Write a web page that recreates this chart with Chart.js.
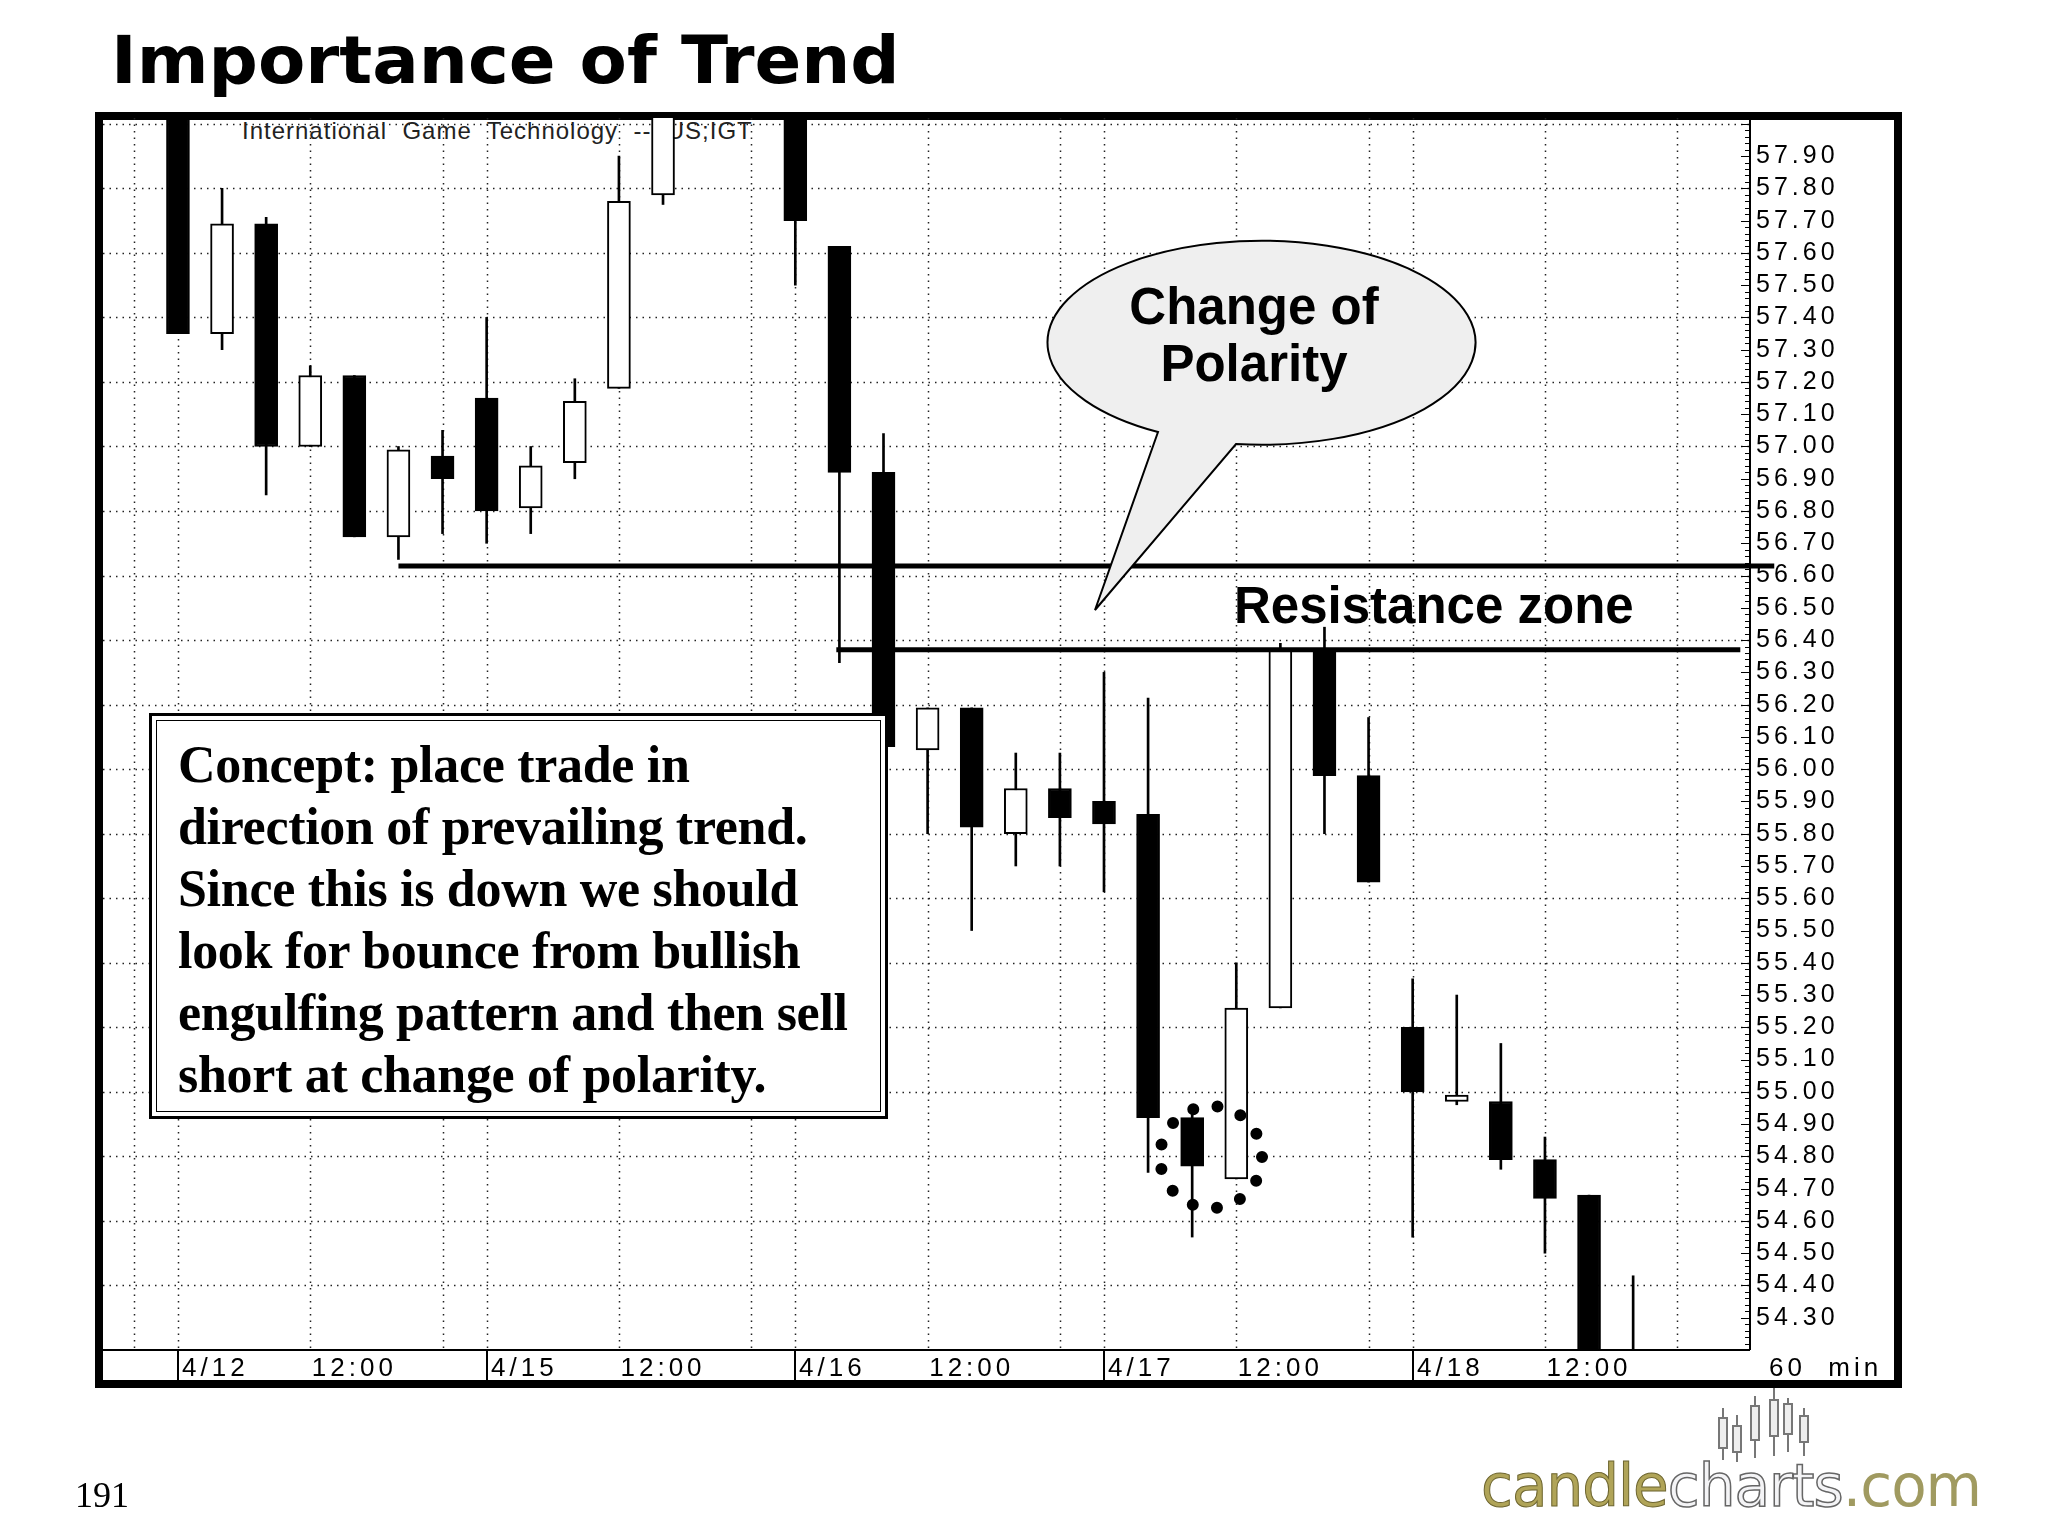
<!DOCTYPE html>
<html>
<head>
<meta charset="utf-8">
<script src="https://cdn.jsdelivr.net/npm/chart.js@4.4.1/dist/chart.umd.min.js"></script>
<style>
  body { margin: 0; width: 2048px; height: 1536px; background: #fff; position: relative; overflow: hidden; }
  .abs { position: absolute; }
  #title { left: 111px; top: 22px; font: bold 66px "DejaVu Sans"; white-space: nowrap; transform-origin: left top; }
  #frame { left: 95px; top: 112px; width: 1791px; height: 1260px; border: 8px solid #000; }
  #sym { left: 242px; top: 117px; font: 24px "Liberation Sans"; letter-spacing: 1px; white-space: pre; color: #222; }
  #wrap { left: 103px; top: 118px; width: 1791px; height: 1262px; }
  #concept { left: 149px; top: 713px; width: 733px; height: 400px; border: 3px solid #000; background: #fff; }
  #concept .in { position: absolute; left: 4px; top: 4px; right: 4px; bottom: 4px; border: 1.5px solid #000; }
  #concept .txt { position: absolute; left: 26px; top: 18px; font: bold 52px "Liberation Serif"; line-height: 62px; white-space: nowrap; letter-spacing: -0.3px; }
  #res { left: 1234px; top: 576px; font: bold 51px "Liberation Sans"; white-space: nowrap; }
  #page { left: 75px; top: 1474px; font: 36px "Liberation Serif"; }
  #logo { left: 1481px; top: 1452px; font: 58px "DejaVu Sans"; white-space: nowrap; letter-spacing: -1px; }
  #logo .c1 { color: #b0a458; -webkit-text-stroke: 1px #6e6630; }
  #logo .c2 { color: #f4f4f6; -webkit-text-stroke: 1.5px #666; }
  #logo .c3 { color: #a09a60; }
</style>
</head>
<body>
<div id="title" class="abs">Importance of Trend</div>
<div id="frame" class="abs"></div>
<div id="sym" class="abs">International  Game  Technology  --  US;IGT</div>
<div id="wrap" class="abs"><canvas id="chart"></canvas></div>

<svg class="abs" style="left:0;top:0" width="2048" height="1536">
  <path d="M1158 432 A214 102 0 1 1 1236 444 L1095 610 Z" fill="#efefef" stroke="#000" stroke-width="2"/>
  <text x="1254" y="324" text-anchor="middle" font-family="Liberation Sans" font-weight="bold" font-size="51">Change of</text>
  <text x="1254" y="381" text-anchor="middle" font-family="Liberation Sans" font-weight="bold" font-size="51">Polarity</text>
  <circle cx="1211" cy="1157" r="51" fill="none" stroke="#000" stroke-width="12" stroke-linecap="round" stroke-dasharray="0 24.65"/>
  <g stroke="#777" stroke-width="2" fill="#eee">
    <line x1="1723" y1="1408" x2="1723" y2="1460"/><rect x="1719" y="1418" width="8" height="30"/>
    <line x1="1737" y1="1415" x2="1737" y2="1462"/><rect x="1733" y="1426" width="8" height="26"/>
    <line x1="1755" y1="1396" x2="1755" y2="1458"/><rect x="1751" y="1406" width="8" height="34"/>
    <line x1="1774" y1="1388" x2="1774" y2="1456"/><rect x="1770" y="1400" width="8" height="36"/>
    <line x1="1788" y1="1398" x2="1788" y2="1452"/><rect x="1784" y="1404" width="8" height="30"/>
    <line x1="1804" y1="1408" x2="1804" y2="1456"/><rect x="1800" y="1416" width="8" height="26"/>
  </g>
</svg>

<div id="concept" class="abs"><div class="in"></div><div class="txt">Concept: place trade in<br>direction of prevailing trend.<br>Since this is down we should<br>look for bounce from bullish<br>engulfing pattern and then sell<br>short at change of polarity.</div></div>
<div id="res" class="abs">Resistance zone</div>
<div id="page" class="abs">191</div>
<div id="logo" class="abs"><span class="c1">candle</span><span class="c2">charts</span><span class="c3">.com</span></div>

<script>
// hourly bars, slot index = position on the time axis (7 bars per day)
const slots = [0,1,2,3,4,5,6,7,8,9,10,11,14,15,16,17,18,19,20,21,22,23,24,25,26,27,28,29,30,31,32,33];
const opens  = [58.30,57.35,57.69,57.00,57.22,56.72,56.97,57.15,56.81,56.95,57.18,57.78,58.30,57.62,56.92,56.06,56.19,55.80,55.94,55.90,55.86,54.92,54.73,55.26,56.37,55.98,55.20,54.97,54.97,54.79,54.68,54.15];
const highs  = [58.40,57.80,57.71,57.25,57.22,57.00,57.05,57.40,57.00,57.21,57.90,58.40,58.40,57.62,57.04,56.19,56.19,56.05,56.05,56.30,56.22,54.93,55.40,56.39,56.44,56.16,55.35,55.30,55.15,54.86,54.68,54.43];
const lows   = [57.35,57.30,56.85,57.00,56.72,56.65,56.73,56.70,56.73,56.90,57.18,57.75,57.50,56.33,55.88,55.80,55.50,55.70,55.70,55.62,54.75,54.55,54.73,55.26,55.80,55.65,54.55,54.96,54.76,54.50,54.10,54.10];
const closes = [57.35,57.69,57.00,57.22,56.72,56.99,56.90,56.80,56.94,57.14,57.76,58.30,57.70,56.92,56.07,56.19,55.82,55.94,55.85,55.83,54.92,54.77,55.26,56.37,55.98,55.65,55.00,54.99,54.79,54.67,54.10,54.15];

const dayLabels = ['4/12','4/15','4/16','4/17','4/18'];
const daySlots = [0,7,14,21,28];
const noonSlots = [4,11,18,25,32];
const vGridSlots = [-1,0,3,6,7,10,13,14,17,20,21,24,27,28,31,34];
const resistance = [56.63, 56.37];
const resistanceFrom = [5, 14.93];
const resistanceTo = [36.2, 35.43];
const priceMin = 54.20, priceMax = 58.018;

const bodies = slots.map((s, i) => ({ x: s, y: [opens[i], closes[i]] }));
const wicks = slots.map((s, i) => ({ x: s, y: [lows[i], highs[i]] }));

const fmt = v => v.toFixed(2);

const chartDeco = {
  id: 'chartDeco',
  beforeDatasetsDraw(chart) {
    const { ctx, chartArea: a, scales: { x, y } } = chart;
    ctx.save();
    ctx.strokeStyle = '#222';
    ctx.lineWidth = 1.5;
    ctx.setLineDash([1.5, 5]);
    for (let k = 544; k <= 580; k += 2) {
      const py = Math.round(y.getPixelForValue(k / 10)) + 0.5;
      if (py < a.top || py > a.bottom) continue;
      ctx.beginPath(); ctx.moveTo(a.left, py); ctx.lineTo(a.right, py); ctx.stroke();
    }
    vGridSlots.forEach(s => {
      const px = Math.round(x.getPixelForValue(s)) + 0.5;
      ctx.beginPath(); ctx.moveTo(px, a.top); ctx.lineTo(px, a.bottom); ctx.stroke();
    });
    ctx.restore();
  },
  afterDraw(chart) {
    const { ctx, chartArea: a, scales: { x, y } } = chart;
    ctx.save();
    ctx.strokeStyle = '#000';
    ctx.fillStyle = '#000';
    ctx.lineWidth = 2;
    // axis borders
    ctx.beginPath();
    ctx.moveTo(a.right, a.top); ctx.lineTo(a.right, a.bottom);
    ctx.moveTo(0, a.bottom); ctx.lineTo(a.right, a.bottom);
    ctx.stroke();
    // right axis ticks and labels
    ctx.lineWidth = 1;
    for (let k = 5422; k <= 5800; k += 2) {
      const v = k / 100;
      const py = Math.round(y.getPixelForValue(v)) + 0.5;
      const major = k % 10 === 0;
      ctx.beginPath(); ctx.moveTo(a.right - (major ? 9 : 5), py); ctx.lineTo(a.right, py); ctx.stroke();
    }
    ctx.font = '25px "Liberation Sans"';
    ctx.letterSpacing = '4px';
    ctx.textBaseline = 'middle';
    for (let k = 543; k <= 579; k++) {
      ctx.fillText(fmt(k / 10), a.right + 6, y.getPixelForValue(k / 10));
    }
    // bottom axis
    ctx.textBaseline = 'alphabetic';
    ctx.font = '26px "Liberation Sans"';
    ctx.lineWidth = 2;
    daySlots.forEach((s, i) => {
      const px = Math.round(x.getPixelForValue(s));
      ctx.beginPath(); ctx.moveTo(px, a.bottom); ctx.lineTo(px, a.bottom + 30); ctx.stroke();
      ctx.textAlign = 'left';
      ctx.fillText(dayLabels[i], px + 4, a.bottom + 26);
    });
    ctx.textAlign = 'center';
    noonSlots.forEach(s => ctx.fillText('12:00', x.getPixelForValue(s), a.bottom + 26));
    ctx.textAlign = 'left';
    ctx.fillText('60  min', a.right + 19, a.bottom + 26);
    ctx.restore();
  }
};

new Chart(document.getElementById('chart'), {
  type: 'bar',
  data: {
    datasets: [
      {
        data: [{ x: resistanceFrom[0], y: resistance[0] }, { x: resistanceTo[0], y: resistance[0] }],
        type: 'line', borderColor: '#000', borderWidth: 5, pointRadius: 0, clip: false, order: 0
      },
      {
        data: [{ x: resistanceFrom[1], y: resistance[1] }, { x: resistanceTo[1], y: resistance[1] }],
        type: 'line', borderColor: '#000', borderWidth: 5, pointRadius: 0, clip: false, order: 0
      },
      {
        data: bodies,
        backgroundColor: slots.map((s, i) => closes[i] >= opens[i] ? '#fff' : '#000'),
        borderColor: '#000', borderWidth: 2, borderSkipped: false,
        barThickness: 23, grouped: false, order: 1
      },
      {
        data: wicks,
        backgroundColor: '#000', borderWidth: 0,
        barThickness: 2, grouped: false, order: 2
      }
    ]
  },
  options: {
    responsive: true,
    maintainAspectRatio: false,
    animation: false,
    layout: { padding: 0 },
    plugins: { legend: { display: false }, tooltip: { enabled: false } },
    scales: {
      x: {
        type: 'linear', min: -1.70, max: 35.65, offset: false,
        grid: { display: false }, border: { display: false },
        ticks: { display: false },
        afterFit: s => { s.height = 30; }
      },
      y: {
        position: 'right', min: priceMin, max: priceMax,
        grid: { display: false }, border: { display: false },
        ticks: { display: false },
        afterFit: s => { s.width = 144; }
      }
    }
  },
  plugins: [chartDeco]
});

// squeeze the title to the measured width
const t = document.getElementById('title');
t.style.transform = 'scaleX(' + (789 / t.offsetWidth) + ')';
</script>
</body>
</html>
